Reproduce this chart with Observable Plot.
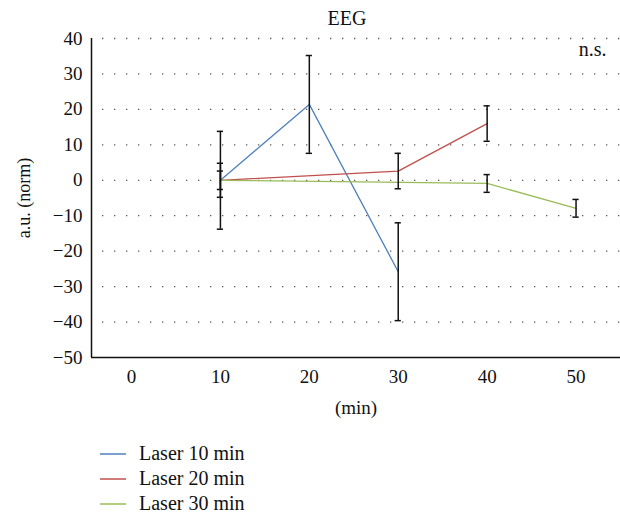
<!DOCTYPE html>
<html><head><meta charset="utf-8">
<script src="https://cdn.jsdelivr.net/npm/d3@7"></script>
<script src="https://cdn.jsdelivr.net/npm/@observablehq/plot@0.6"></script>
<style>
body{margin:0;background:#fff;font-family:"Liberation Serif","DejaVu Serif",serif;color:#111;}
#title{width:620px;height:28px;box-sizing:border-box;padding-left:74px;text-align:center;font-size:20px;line-height:36px;}
#legend{margin-top:23px;padding-left:100px;font-size:20px;}
.row{height:25px;display:flex;align-items:center;}
.row svg{margin-right:13px;}
</style></head><body>
<div id="title">EEG</div>
<div id="chart"></div>
<div id="legend"></div>
<script>
const xTicks = [0, 10, 20, 30, 40, 50];
const yTicks = [40, 30, 20, 10, 0, -10, -20, -30, -40, -50];
const xDomain = [-4.5, 55];
const yDomain = [-50, 40];

const seriesNames = ["Laser 10 min", "Laser 20 min", "Laser 30 min"];
const seriesColors = ["#4f81bd", "#c0504d", "#9bbb59"];

const laser10X = [10, 20, 30];
const laser10Y = [0, 21.4, -25.8];
const laser10Err = [13.8, 13.8, 13.8];

const laser20X = [10, 30, 40];
const laser20Y = [0, 2.6, 16.0];
const laser20Err = [4.8, 5.0, 5.0];

const laser30X = [10, 40, 50];
const laser30Y = [0, -0.9, -7.9];
const laser30Err = [2.6, 2.5, 2.5];

const raw = [[laser10X, laser10Y, laser10Err], [laser20X, laser20Y, laser20Err], [laser30X, laser30Y, laser30Err]];
const data = raw.flatMap(([xs, ys, es], i) => xs.map((x, j) => ({series: seriesNames[i], x, y: ys[j], err: es[j]})));
const capHalf = 0.35;

const chart = Plot.plot({
  width: 620,
  height: 390,
  marginTop: 10,
  marginLeft: 91,
  marginRight: 0,
  marginBottom: 61,
  style: {fontFamily: '"Liberation Serif","DejaVu Serif",serif', fontSize: "19px", color: "#111", background: "#fff"},
  x: {domain: xDomain},
  y: {domain: yDomain},
  color: {domain: seriesNames, range: seriesColors},
  marks: [
    Plot.gridY(yTicks.filter(t => t !== yDomain[0]), {stroke: "#555", strokeOpacity: 1, strokeWidth: 1.3, strokeDasharray: "1.3,10.7", strokeDashoffset: -11}),
    Plot.axisX({ticks: xTicks, tickSize: 0, tickPadding: 12, tickFormat: d => String(d), label: null, fontSize: 19}),
    Plot.axisX({ticks: [], label: "(min)", labelAnchor: "center", labelArrow: "none", labelOffset: 56, fontSize: 19}),
    Plot.axisY({ticks: yTicks, tickSize: 0, tickPadding: 9, label: null, fontSize: 19}),
    Plot.axisY({ticks: [], label: "a.u. (norm)", labelAnchor: "center", labelArrow: "none", labelOffset: 74, fontSize: 18}),
    Plot.ruleY([yDomain[0]], {stroke: "#111", strokeWidth: 1.5}),
    Plot.ruleX([xDomain[0]], {stroke: "#111", strokeWidth: 1.5}),
    Plot.line(data, {x: "x", y: "y", z: "series", stroke: "series", strokeWidth: 1.3}),
    Plot.ruleX(data, {x: "x", y1: d => d.y - d.err, y2: d => d.y + d.err, stroke: "#111", strokeWidth: 1.5}),
    Plot.ruleY(data, {y: d => d.y + d.err, x1: d => d.x - capHalf, x2: d => d.x + capHalf, stroke: "#111", strokeWidth: 1.5}),
    Plot.ruleY(data, {y: d => d.y - d.err, x1: d => d.x - capHalf, x2: d => d.x + capHalf, stroke: "#111", strokeWidth: 1.5}),
    Plot.text(["n.s."], {frameAnchor: "top-right", textAnchor: "end", lineAnchor: "middle", dx: -14, dy: 11, fill: "#111", fontSize: 20})
  ]
});
document.getElementById("chart").appendChild(chart);

const legend = document.getElementById("legend");
seriesNames.forEach((name, i) => {
  const row = document.createElement("div");
  row.className = "row";
  row.innerHTML = `<svg width="26" height="4"><line x1="0" x2="26" y1="2" y2="2" stroke="${seriesColors[i]}" stroke-width="1.5"/></svg><span>${name}</span>`;
  legend.appendChild(row);
});
</script>
</body></html>
